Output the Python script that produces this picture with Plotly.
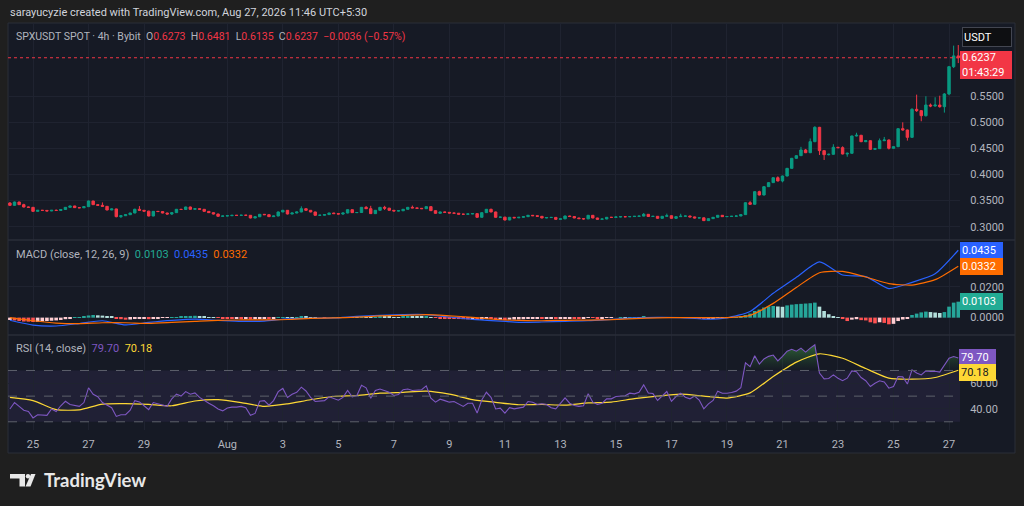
import numpy as np
import pandas as pd
import plotly.graph_objects as go
from plotly.subplots import make_subplots

W, H = 1024, 506

# ---------------- data (4h candles, local time UTC+5:30) ----------------
times = pd.date_range("2026-07-24 05:30", periods=206, freq="4h")

first_open = 0.3454
closes = [
    .3409, .3473, .3422, .3377, .3371, .3294, .3314, .3312, .3301, .3314,
    .3310, .3330, .3371, .3397, .3365, .3362, .3384, .3492, .3422, .3409,
    .3390, .3320, .3340, .3192, .3210, .3230, .3262, .3333, .3314, .3298,
    .3205, .3294, .3290, .3262, .3243, .3269, .3333, .3330, .3377, .3333,
    .3345, .3333, .3294, .3269, .3243, .3199, .3205, .3210, .3218, .3216,
    .3220, .3218, .3167, .3190, .3237, .3230, .3192, .3205, .3282, .3314,
    .3243, .3262, .3282, .3345, .3314, .3282, .3218, .3220, .3232, .3262,
    .3250, .3243, .3262, .3326, .3269, .3272, .3371, .3345, .3250, .3314,
    .3371, .3355, .3314, .3301, .3305, .3333, .3371, .3360, .3352, .3345,
    .3384, .3307, .3256, .3282, .3275, .3262, .3258, .3240, .3238, .3245,
    .3250, .3180, .3269, .3333, .3282, .3180, .3183, .3128, .3180, .3170,
    .3180, .3192, .3218, .3210, .3199, .3167, .3175, .3178, .3141, .3150,
    .3205, .3195, .3167, .3154, .3150, .3218, .3167, .3141, .3148, .3180,
    .3178, .3186, .3192, .3190, .3194, .3199, .3203, .3237, .3195, .3199,
    .3160, .3199, .3210, .3160, .3192, .3200, .3205, .3188, .3167, .3170,
    .3116, .3154, .3180, .3218, .3192, .3195, .3200, .3205, .3231, .3460,
    .3429, .3671, .3607, .3767, .3844, .3939, .3876, .3971, .4118, .4310,
    .4361, .4470, .4418, .4629, .4904, .4457, .4380, .4387, .4521, .4515,
    .4393, .4406, .4738, .4751, .4629, .4648, .4482, .4495, .4648, .4661,
    .4502, .4533, .4878, .4853, .4712, .5249, .5223, .5127, .5332, .5313,
    .5330, .5300, .5543, .6066, .6273, .6237,
]
highs = [
    .3470, .3480, .3478, .3440, .3385, .3378, .3320, .3318, .3318, .3320,
    .3330, .3336, .3376, .3402, .3400, .3370, .3390, .3500, .3496, .3428,
    .3465, .3395, .3348, .3345, .3215, .3236, .3268, .3345, .3395, .3320,
    .3305, .3300, .3298, .3295, .3268, .3275, .3340, .3340, .3384, .3385,
    .3352, .3350, .3338, .3298, .3274, .3248, .3210, .3216, .3224, .3222,
    .3226, .3224, .3222, .3196, .3244, .3240, .3235, .3212, .3290, .3322,
    .3320, .3268, .3288, .3390, .3350, .3318, .3286, .3226, .3238, .3268,
    .3266, .3256, .3270, .3332, .3330, .3278, .3378, .3395, .3400, .3320,
    .3378, .3400, .3360, .3318, .3312, .3340, .3378, .3405, .3366, .3358,
    .3390, .3388, .3312, .3288, .3288, .3280, .3268, .3262, .3246, .3250,
    .3256, .3255, .3276, .3340, .3345, .3288, .3190, .3188, .3186, .3186,
    .3186, .3198, .3226, .3224, .3214, .3204, .3182, .3184, .3182, .3156,
    .3212, .3210, .3200, .3172, .3160, .3225, .3224, .3172, .3154, .3186,
    .3186, .3192, .3198, .3196, .3200, .3204, .3210, .3262, .3242, .3205,
    .3204, .3205, .3250, .3215, .3198, .3248, .3212, .3210, .3192, .3176,
    .3175, .3160, .3186, .3224, .3222, .3200, .3206, .3212, .3238, .3466,
    .3490, .3680, .3690, .3775, .3852, .3948, .3965, .3978, .4126, .4318,
    .4370, .4530, .4490, .4690, .4925, .4912, .4462, .4400, .4580, .4530,
    .4540, .4420, .4745, .4800, .4760, .4660, .4655, .4510, .4690, .4720,
    .4670, .4545, .4885, .5000, .4860, .5270, .5530, .5235, .5500, .5360,
    .5480, .5510, .5560, .6080, .6470, .6481,
]
lows = [
    .3395, .3400, .3415, .3370, .3362, .3285, .3290, .3305, .3296, .3298,
    .3305, .3305, .3325, .3365, .3360, .3356, .3358, .3380, .3418, .3402,
    .3385, .3315, .3316, .3180, .3167, .3205, .3225, .3258, .3308, .3292,
    .3198, .3200, .3284, .3256, .3236, .3225, .3264, .3324, .3325, .3328,
    .3328, .3328, .3288, .3262, .3236, .3192, .3194, .3200, .3205, .3210,
    .3212, .3212, .3160, .3160, .3186, .3225, .3186, .3188, .3200, .3278,
    .3236, .3238, .3256, .3276, .3308, .3276, .3212, .3212, .3214, .3226,
    .3244, .3238, .3225, .3256, .3262, .3264, .3266, .3340, .3244, .3244,
    .3308, .3320, .3308, .3295, .3296, .3300, .3328, .3355, .3346, .3340,
    .3340, .3300, .3250, .3250, .3270, .3256, .3252, .3234, .3232, .3232,
    .3240, .3174, .3175, .3264, .3276, .3174, .3175, .3120, .3124, .3164,
    .3164, .3174, .3186, .3204, .3194, .3160, .3162, .3170, .3134, .3136,
    .3146, .3190, .3162, .3148, .3135, .3145, .3160, .3135, .3136, .3142,
    .3172, .3172, .3180, .3184, .3185, .3188, .3194, .3198, .3190, .3190,
    .3154, .3155, .3194, .3154, .3148, .3188, .3196, .3182, .3160, .3162,
    .3108, .3110, .3150, .3175, .3186, .3188, .3190, .3196, .3200, .3226,
    .3420, .3424, .3600, .3600, .3760, .3838, .3868, .3850, .3965, .4112,
    .4300, .4355, .4410, .4410, .4620, .4374, .4278, .4365, .4380, .4500,
    .4385, .4340, .4400, .4730, .4620, .4620, .4475, .4470, .4490, .4640,
    .4480, .4495, .4525, .4840, .4650, .4700, .5200, .5020, .5110, .5290,
    .5300, .5280, .5186, .5520, .6040, .6135,
]

# MACD histogram, one value per bar
macd_hist = [
    -.0015, -.0018, -.0022, -.0025, -.0026, -.0028, -.0027, -.0024, -.0022, -.0020,
    -.0018, -.0015, -.0010, -.0004, .0002, .0004, .0006, .0014, .0017, .0015,
    .0013, .0010, .0006, -.0004, -.0010, -.0013, -.0012, -.0009, -.0008, -.0006,
    -.0010, -.0005, -.0003, -.0002, -.0002, .0001, .0004, .0006, .0010, .0011,
    .0012, .0010, .0008, .0004, .0001, -.0002, -.0005, -.0007, -.0008, -.0008,
    -.0009, -.0009, -.0011, -.0010, -.0006, -.0005, -.0006, -.0004, .0001, .0004,
    .0003, .0003, .0004, .0007, .0006, .0004, .0001, .0000, -.0001, .0000,
    .0001, .0001, .0002, .0004, .0002, .0002, .0006, .0006, .0003, .0004,
    .0006, .0006, .0005, .0004, .0004, .0005, .0007, .0006, .0005, .0005,
    .0007, .0002, -.0002, -.0004, -.0005, -.0007, -.0008, -.0009, -.0010, -.0011,
    -.0011, -.0015, -.0012, -.0008, -.0009, -.0013, -.0013, -.0016, -.0013, -.0012,
    -.0011, -.0010, -.0007, -.0006, -.0006, -.0008, -.0008, -.0007, -.0009, -.0008,
    -.0004, -.0004, -.0005, -.0006, -.0006, -.0001, -.0002, -.0004, -.0004, -.0002,
    -.0001, .0000, .0002, .0002, .0003, .0004, .0004, .0006, .0004, .0003,
    .0001, .0002, .0003, .0000, .0000, .0001, .0001, .0000, -.0002, -.0003,
    -.0008, -.0007, -.0005, -.0002, -.0002, -.0001, .0000, .0002, .0005, .0017,
    .0026, .0043, .0052, .0065, .0073, .0075, .0072, .0070, .0079, .0084,
    .0087, .0089, .0091, .0093, .0097, .0071, .0043, .0022, .0009, .0002,
    -.0009, -.0022, -.0013, -.0010, -.0016, -.0018, -.0030, -.0037, -.0030, -.0034,
    -.0043, -.0040, -.0022, -.0012, -.0006, .0017, .0026, .0034, .0039, .0036,
    .0033, .0030, .0036, .0071, .0097, .0103,
]
# MACD / signal lines, read every 5th bar
macd_line = [
    -.0017, -.0048, -.0054, -.0038, -.0020, -.0047, -.0031, -.0018, -.0010, -.0017,
    -.0024, -.0022, -.0007, -.0004, -.0002, .0008, .0015, .0020, .0020, .0004,
    -.0011, -.0021, -.0030, -.0028, -.0024, -.0020, -.0011, -.0001, .0002, .0000,
    -.0009, -.0001, .0040, .0157, .0260, .0360, .0275, .0265, .0187, .0228,
    .0283, .0435,
]
signal_line = [
    .0000, -.0020, -.0035, -.0039, -.0033, -.0033, -.0037, -.0031, -.0024, -.0017,
    -.0015, -.0014, -.0012, -.0005, -.0002, .0003, .0011, .0015, .0020, .0012,
    .0002, -.0012, -.0017, -.0020, -.0017, -.0016, -.0013, -.0006, -.0001, .0000,
    .0000, .0000, .0015, .0092, .0195, .0290, .0298, .0262, .0220, .0210,
    .0245, .0332,
]
rsi = [
    40, 45, 42, 39, 38, 33, 35.5, 35.5, 35, 40,
    38, 42.5, 46, 43.5, 43, 42, 45, 56.5, 51.5, 49.5,
    45, 42.7, 41, 34.2, 35.5, 35.5, 39, 46.5, 45.5, 42.5,
    39.5, 45, 44, 43.5, 42, 47.9, 51.5, 50, 53.5, 51.5,
    52.5, 49, 46.5, 44.5, 42.5, 40, 38.5, 40.8, 41.4, 41.4,
    42, 40.9, 35, 36.5, 46, 46.5, 43, 46.5, 53.5, 56,
    49, 51.5, 53, 57, 54, 49, 45.8, 46, 46.5, 49.5,
    48, 46.8, 49, 54.5, 49.5, 50.5, 58.5, 56.5, 48.4, 54.5,
    55.5, 54, 53, 50.5, 51.3, 55, 55.5, 54.4, 54.9, 55,
    58, 48.5, 45.3, 47.6, 46.5, 45.3, 45.8, 44, 42, 44.5,
    44.5, 36.8, 47, 53, 49, 40, 40.6, 36.8, 41, 40.1,
    41, 41.4, 45.8, 45.3, 43.5, 44, 43.5, 41, 40.1, 44,
    48.7, 44.5, 42.7, 42, 42.5, 51.8, 45.3, 43.5, 44.5, 47.9,
    47.9, 49.7, 50, 50.3, 52.3, 51.8, 53, 58.8, 52.5, 52,
    46.6, 50.5, 53.6, 46, 49.7, 52.3, 49.2, 47.9, 50, 47,
    40.1, 44, 46.6, 53.9, 52.3, 52.3, 52.8, 53.9, 56.5, 76,
    73, 81.5, 75, 79, 81, 82, 77.5, 81, 85, 86.5,
    85, 87.4, 84.3, 87.4, 90, 68, 63.5, 63.8, 66.6, 64,
    62, 64, 69.7, 69, 64.5, 62, 57.5, 60, 62, 61,
    56.2, 57.5, 65.3, 65, 59.4, 70.5, 68, 66.5, 69.7, 69.2,
    69.4, 68.7, 74.4, 79.6, 80.9, 79.7,
]
# RSI moving average, read every 5th bar
rsi_ma = [
    49, 46.5, 39.5, 39.3, 43.8, 44.2, 43.5, 42.5, 46.2, 47.2,
    45, 42, 44, 47.2, 49.7, 50.5, 52.3, 53, 53.9, 51.5,
    47.3, 45.2, 43.3, 43.5, 43, 44.7, 45.4, 48, 50, 51.5,
    50, 48.5, 52.5, 65.3, 76.5, 83, 79.5, 71.5, 64, 63.2,
    64.5, 70.18,
]

date_ticks = ["2026-07-25", "2026-07-27", "2026-07-29", "2026-08-01", "2026-08-03",
              "2026-08-05", "2026-08-07", "2026-08-09", "2026-08-11", "2026-08-13",
              "2026-08-15", "2026-08-17", "2026-08-19", "2026-08-21", "2026-08-23",
              "2026-08-25", "2026-08-27"]
date_labels = ["25", "27", "29", "Aug", "3", "5", "7", "9", "11", "13",
               "15", "17", "19", "21", "23", "25", "27"]
price_ticks = [0.30, 0.35, 0.40, 0.45, 0.50, 0.55]
macd_ticks = [0.0, 0.02]
rsi_ticks = [40, 60]

# ---------------- styling ----------------
BG_OUT = "#1f1f1f"
BG = "#161a25"
GRID = "#1f2330"
BORDER = "#2a2e39"
TXT = "#b2b5be"
GREEN = "#089981"
RED = "#f23645"
BLUE = "#2962ff"
ORANGE = "#ff6d00"
TEAL = "#22ab94"
PURPLE = "#7e57c2"
YELLOW = "#fdd835"
FONT = "Roboto"


def px(x):
    return x / W


def py(y):
    return 1 - y / H


opens = [first_open] + closes[:-1]
times_s = times[::5]
tick_pos = [pd.Timestamp(d) + pd.Timedelta(hours=1.5) for d in date_ticks]

hist_colors = []
for i, v in enumerate(macd_hist):
    prev = macd_hist[i - 1] if i > 0 else v
    if v >= 0:
        hist_colors.append("#26a69a" if v > prev else "#b2dfdb")
    else:
        hist_colors.append("#ff5252" if v < prev else "#ffcdd2")

rsi_arr = np.array(rsi, dtype=float)
rsi_upper = np.maximum(rsi_arr, 70)
rsi_base = np.full_like(rsi_arr, 70.0)

fig = make_subplots(rows=3, cols=1, shared_xaxes=True, vertical_spacing=0)

fig.add_trace(go.Candlestick(
    x=times, open=opens, high=highs, low=lows, close=closes,
    increasing=dict(line=dict(color=GREEN, width=1), fillcolor=GREEN),
    decreasing=dict(line=dict(color=RED, width=1), fillcolor=RED),
    whiskerwidth=0, hoverinfo="skip"), row=1, col=1)

fig.add_trace(go.Bar(x=times, y=macd_hist, marker=dict(color=hist_colors, line_width=0)),
              row=2, col=1)
fig.add_trace(go.Scatter(x=times_s, y=macd_line, mode="lines",
                         line=dict(color=BLUE, width=1.2, shape="spline", smoothing=0.6)),
              row=2, col=1)
fig.add_trace(go.Scatter(x=times_s, y=signal_line, mode="lines",
                         line=dict(color=ORANGE, width=1.2, shape="spline", smoothing=0.6)),
              row=2, col=1)

fig.add_trace(go.Scatter(x=times, y=rsi_base, mode="lines", line=dict(width=0),
                         hoverinfo="skip"), row=3, col=1)
fig.add_trace(go.Scatter(x=times, y=rsi_upper, mode="lines", line=dict(width=0),
                         fill="tonexty",
                         fillgradient=dict(type="vertical", start=70, stop=92,
                                           colorscale=[[0, "rgba(46,125,50,0)"],
                                                       [1, "rgba(76,175,80,0.55)"]]),
                         hoverinfo="skip"), row=3, col=1)
fig.add_trace(go.Scatter(x=times_s, y=rsi_ma, mode="lines",
                         line=dict(color=YELLOW, width=1.2, shape="spline", smoothing=0.6)),
              row=3, col=1)
fig.add_trace(go.Scatter(x=times, y=rsi, mode="lines", line=dict(color=PURPLE, width=1.1)),
              row=3, col=1)

x_range = [times[0] - pd.Timedelta(hours=1.64), times[0] + pd.Timedelta(hours=821.5)]
xdom = [px(8), px(960)]
for i, ax in enumerate(["xaxis", "xaxis2", "xaxis3"]):
    fig.layout[ax].update(
        domain=xdom, range=x_range, type="date", tickvals=tick_pos, ticktext=date_labels,
        showgrid=True, gridcolor=GRID, gridwidth=1, zeroline=False, showline=False,
        showticklabels=(ax == "xaxis3"), ticks="outside", ticklen=4,
        tickcolor="rgba(0,0,0,0)", tickfont=dict(color=TXT, size=11, family=FONT),
        rangeslider=dict(visible=False), fixedrange=True)

yaxis_common = dict(side="right", showgrid=True, gridcolor=GRID, zeroline=False,
                    showline=False, ticks="outside", ticklen=7, tickcolor="rgba(0,0,0,0)",
                    tickmode="array", tickfont=dict(color=TXT, size=11, family=FONT),
                    fixedrange=True)
fig.layout.yaxis.update(domain=[py(240), py(23)], range=[0.2745, 0.6903],
                        tickvals=price_ticks, ticktext=[f"{v:.4f}" for v in price_ticks],
                        **yaxis_common)
fig.layout.yaxis2.update(domain=[py(335), py(240)], range=[-0.0112, 0.0501],
                         tickvals=macd_ticks, ticktext=[f"{v:.4f}" for v in macd_ticks],
                         **yaxis_common)
fig.layout.yaxis3.update(domain=[py(430), py(335)], range=[23.6, 97.65],
                         tickvals=rsi_ticks, ticktext=[f"{v:.2f}" for v in rsi_ticks],
                         **yaxis_common)

shapes = [
    dict(type="rect", xref="paper", yref="paper", x0=px(8), x1=px(1015), y0=py(453), y1=py(23),
         fillcolor=BG, line=dict(color=BORDER, width=1), layer="below"),
    dict(type="line", xref="paper", yref="paper", x0=px(8), x1=px(1015), y0=py(240), y1=py(240),
         line=dict(color=BORDER, width=1.5)),
    dict(type="line", xref="paper", yref="paper", x0=px(8), x1=px(1015), y0=py(335), y1=py(335),
         line=dict(color=BORDER, width=1.5)),
    dict(type="rect", xref="x3 domain", yref="y3", x0=0, x1=1, y0=30, y1=70,
         fillcolor="rgba(126,87,194,0.10)", line=dict(width=0), layer="below"),
    dict(type="line", xref="paper", yref="y", x0=px(8), x1=px(960), y0=closes[-1], y1=closes[-1],
         line=dict(color=RED, width=1, dash="dot")),
]
for lvl in (70, 50, 30):
    shapes.append(dict(type="line", xref="x3 domain", yref="y3", x0=0, x1=1, y0=lvl, y1=lvl,
                       line=dict(color="#5d606b", width=1, dash="dash")))


def logo_path(pts):
    return "M " + " L ".join(f"{px(a)},{py(b)}" for a, b in pts) + " Z"


shapes += [
    dict(type="path", xref="paper", yref="paper", fillcolor="#e8e8e8", line=dict(width=0),
         path=logo_path([(10, 474), (25, 474), (25, 486.5), (19.5, 486.5), (19.5, 478.5), (10, 478.5)])),
    dict(type="circle", xref="paper", yref="paper", fillcolor="#e8e8e8", line=dict(width=0),
         x0=px(25.8), x1=px(30.2), y0=py(478.5), y1=py(474)),
    dict(type="path", xref="paper", yref="paper", fillcolor="#e8e8e8", line=dict(width=0),
         path=logo_path([(31, 474), (35.5, 474), (30.5, 486.5), (25.5, 486.5)])),
]

o, h, l, c = opens[-1], highs[-1], lows[-1], closes[-1]
chg = c - opens[-1]
pct = chg / opens[-1] * 100


def val(v, color, fmt):
    return f"<span style='color:{color}'>{format(v, fmt).replace('-', '−')}</span>"


ohlc_text = ("SPXUSDT SPOT · 4h · Bybit&nbsp; "
             f"O{val(o, RED, '.4f')}&nbsp; H{val(h, RED, '.4f')}&nbsp; "
             f"L{val(l, RED, '.4f')}&nbsp; C{val(c, RED, '.4f')}&nbsp; "
             f"<span style='color:{RED}'>{format(chg, '.4f').replace('-', '−')} "
             f"({format(pct, '.2f').replace('-', '−')}%)</span>")
macd_text = (f"MACD (close, 12, 26, 9)&nbsp; {val(macd_hist[-1], TEAL, '.4f')}&nbsp; "
             f"{val(macd_line[-1], BLUE, '.4f')}&nbsp; {val(signal_line[-1], ORANGE, '.4f')}")
rsi_text = (f"RSI (14, close)&nbsp; {val(rsi[-1], PURPLE, '.2f')}&nbsp; "
            f"{val(rsi_ma[-1], YELLOW, '.2f')}")

annotations = [
    dict(x=px(8), y=py(13), text="sarayucyzie created with TradingView.com, Aug 27, 2026 11:46 UTC+5:30",
         font=dict(color="#d1d4dc", size=11)),
    dict(x=px(14), y=py(36), text=ohlc_text, font=dict(color=TXT, size=10.5)),
    dict(x=px(14), y=py(254), text=macd_text, font=dict(color=TXT, size=11)),
    dict(x=px(14), y=py(348), text=rsi_text, font=dict(color=TXT, size=11)),
    dict(x=px(42), y=py(480), text="<b>TradingView</b>", font=dict(color="#e8e8e8", size=18.5, family="Lato")),
]
for a in annotations:
    a.update(xref="paper", yref="paper", xanchor="left", yanchor="middle", showarrow=False)
    a["font"].setdefault("family", FONT)


def tag(xc, yc, text, bg, fg="#ffffff", w=42, hgt=13, border=None):
    return dict(xref="paper", yref="paper", x=px(xc), y=py(yc), xanchor="center", yanchor="middle",
                text=text, showarrow=False, bgcolor=bg, width=w, height=hgt, align="left",
                bordercolor=border or bg, borderwidth=1, borderpad=1,
                font=dict(color=fg, size=11, family=FONT))


annotations += [
    tag(987, 36.5, "USDT", "#0e0f12", w=46, hgt=16, border="#434651"),
    tag(986, 65, f"{c:.4f}<br>01:43:29", RED, w=48, hgt=24),
    tag(981, 250.5, f"{macd_line[-1]:.4f}", BLUE, w=39),
    tag(981, 266.5, f"{signal_line[-1]:.4f}", ORANGE, w=39),
    tag(981, 301.5, f"{macd_hist[-1]:.4f}", TEAL, w=39),
    tag(977.5, 357.5, f"{rsi[-1]:.2f}", PURPLE, w=33),
    tag(977.5, 372.5, f"{rsi_ma[-1]:.2f}", YELLOW, fg="#131722", w=33),
]

fig.update_layout(
    width=W, height=H, margin=dict(l=0, r=0, t=0, b=0),
    paper_bgcolor=BG_OUT, plot_bgcolor="rgba(0,0,0,0)",
    showlegend=False, bargap=0.22, boxgap=0.25,
    shapes=shapes, annotations=annotations,
    font=dict(family=FONT, color=TXT),
)

# page body has a default 8px margin; remove it so the figure sits at (0, 0)
fig.write_html("out.html", config={"displayModeBar": False},
               post_script="document.body.style.margin='0';document.body.style.overflow='hidden';")
